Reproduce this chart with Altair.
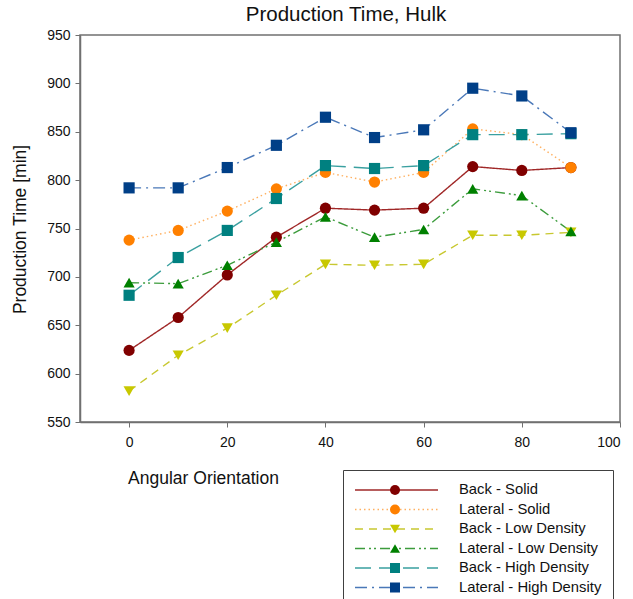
import altair as alt
import pandas as pd

angles = [0, 10, 20, 30, 40, 50, 60, 70, 80, 90]
series = ["Back - Solid", "Lateral - Solid", "Back - Low Density",
          "Lateral - Low Density", "Back - High Density", "Lateral - High Density"]
back_solid = [624, 658, 702, 741, 771, 769, 771, 814, 810, 813]
lateral_solid = [738, 748, 768, 791, 808, 798, 808, 853, 847, 813]
back_low = [582, 619, 647, 681, 713, 712, 713, 743, 743, 746]
lateral_low = [694, 693, 712, 736, 762, 741, 749, 791, 784, 747]
back_high = [681, 720, 748, 781, 815, 812, 815, 847, 847, 848]
lateral_high = [792, 792, 813, 836, 865, 844, 852, 895, 887, 849]

all_values = [back_solid, lateral_solid, back_low, lateral_low, back_high, lateral_high]
# separate keys for the marker legend so it is not merged with the line legend
marker_keys = ["m" + str(i) for i in range(len(series))]
rows = []
for s, k, vals in zip(series, marker_keys, all_values):
    for a, v in zip(angles, vals):
        rows.append({"angle": a, "time": v, "series": s, "marker": k})
df = pd.DataFrame(rows)

marker_colors = ["#800000", "#FF8000", "#C8C800", "#008000", "#008080", "#003F87"]
line_colors = ["#A02828", "#FFB060", "#C8C830", "#3C9C3C", "#3AA0A0", "#4A78B8"]
dashes = [[1, 0], [1.5, 3], [8, 6], [10, 4, 2, 3, 2, 4], [16, 8], [12, 5, 2, 5]]
shapes = ["circle", "circle", "triangle-down", "triangle-up", "square", "square"]

FONT = "Liberation Sans"

x = alt.X("angle:Q", scale=alt.Scale(domain=[-10, 100], nice=False),
          axis=alt.Axis(values=[0, 20, 40, 60, 80, 100], title="Angular Orientation",
                        titleX=123, titleY=56, titleAlign="center", titleBaseline="middle"))
y = alt.Y("time:Q", scale=alt.Scale(domain=[550, 950], nice=False, zero=False),
          axis=alt.Axis(values=list(range(550, 951, 50)), title="Production Time [min]",
                        titleX=-60, titleY=194, titleAngle=-90, titleAlign="center",
                        titleBaseline="middle"))

line_legend = alt.Legend(orient="none", legendX=263, legendY=435, title=None,
                         symbolType="stroke", symbolSize=83 * 83, symbolStrokeWidth=1.4,
                         labelFontSize=14.8, labelOffset=20, padding=11, rowPadding=1.5,
                         strokeColor="#404040", clipHeight=18, labelFont=FONT,
                         labelExpr="datum.label + '   '",
                         labelColor="#111111", zindex=0)
point_legend = alt.Legend(orient="none", legendX=299, legendY=435, title=None,
                          symbolSize=100, labelExpr="''", padding=11, rowPadding=1.5,
                          clipHeight=18, symbolStrokeWidth=0, zindex=1)

lines = alt.Chart(df).mark_line(strokeWidth=1.4).encode(
    x=x, y=y,
    stroke=alt.Stroke("series:N", scale=alt.Scale(domain=series, range=line_colors),
                      legend=line_legend),
    strokeDash=alt.StrokeDash("series:N", scale=alt.Scale(domain=series, range=dashes),
                              legend=line_legend),
)
points = alt.Chart(df).mark_point(filled=True, size=125, opacity=1).encode(
    x=x, y=y,
    fill=alt.Fill("marker:N", scale=alt.Scale(domain=marker_keys, range=marker_colors),
                  legend=point_legend),
    shape=alt.Shape("marker:N", scale=alt.Scale(domain=marker_keys, range=shapes),
                    legend=point_legend),
)

chart = alt.layer(lines, points).properties(
    width=540, height=387,
    title=alt.TitleParams("Production Time, Hulk", fontSize=20.5, fontWeight="normal",
                          font=FONT, anchor="middle", offset=3, color="#111111", dx=-4),
    padding={"left": 80, "top": 35, "right": 13, "bottom": 177},
    autosize=alt.AutoSizeParams(type="none"),
).configure_view(stroke="#707070", strokeWidth=1.5).configure_axis(
    labelFont=FONT, titleFont=FONT, labelFontSize=14, titleFontSize=17.5,
    titleFontWeight="normal", labelColor="#111111", titleColor="#111111",
    domainColor="#707070", domainWidth=1.5, tickColor="#707070", tickSize=5,
    labelPadding=5, grid=False,
).configure_axisX(labelPadding=8)

chart.save("out.html", embed_options={"renderer": "svg", "actions": False})
